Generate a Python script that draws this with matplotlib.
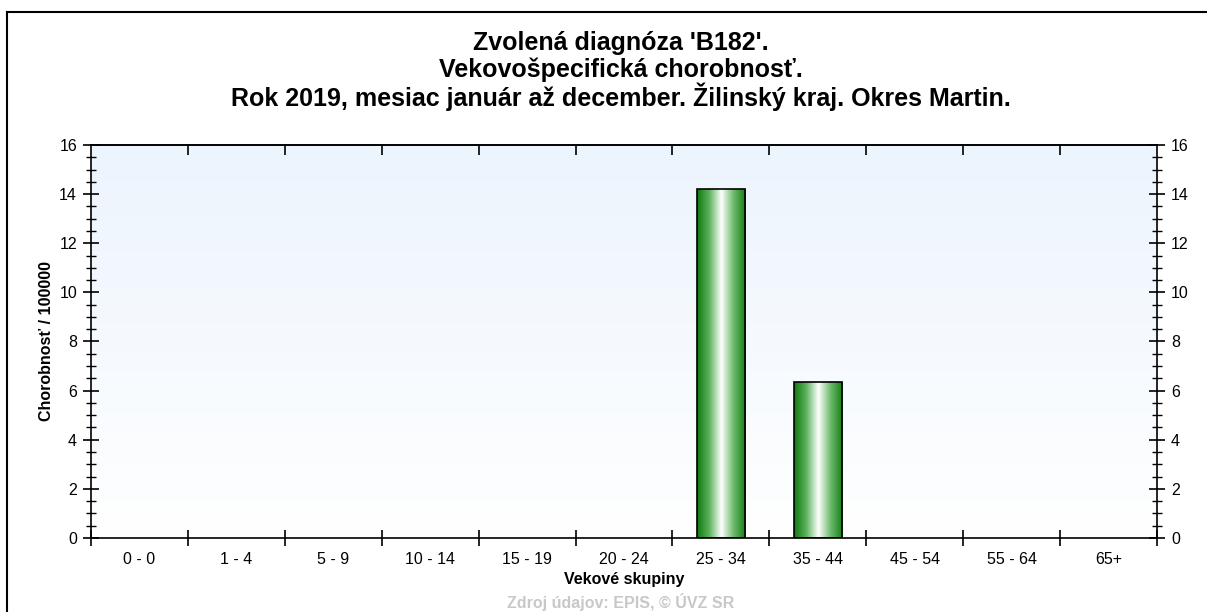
import matplotlib
matplotlib.use("Agg")
from matplotlib import pyplot as plt
from matplotlib.lines import Line2D
from matplotlib.colors import LinearSegmentedColormap
from matplotlib.ticker import MultipleLocator, FixedLocator
import numpy as np

# data
vekove_skupiny = ["0 - 0", "1 - 4", "5 - 9", "10 - 14", "15 - 19", "20 - 24",
                  "25 - 34", "35 - 44", "45 - 54", "55 - 64", "65+"]
chorobnost = [0, 0, 0, 0, 0, 0, 14.2, 6.35, 0, 0, 0]
nadpis = ["Zvolená diagnóza 'B182'.",
          "Vekovošpecifická chorobnosť.",
          "Rok 2019, mesiac január až december. Žilinský kraj. Okres Martin."]

plt.rcParams['font.family'] = ['Liberation Sans', 'DejaVu Sans']

fig = plt.figure(figsize=(12.07, 6.12), dpi=100)
ax = fig.add_axes([0.0754, 0.1209, 0.8832, 0.6422])

x = np.arange(len(vekove_skupiny))

# background gradient (light blue on top -> white)
bg = LinearSegmentedColormap.from_list("bg", ["#ffffff", "#ecf4fd"])
ax.imshow(np.linspace(0, 1, 256).reshape(-1, 1), cmap=bg, origin="lower",
          extent=[0, 1, 0, 1], transform=ax.transAxes, aspect="auto", zorder=0)

# bars with horizontal green gradient
bars = ax.bar(x, chorobnost, width=0.5, facecolor="none", edgecolor="black",
              linewidth=1.2, zorder=3)
green = LinearSegmentedColormap.from_list(
    "g", ["#0f7a0f", "#5cb25c", "#ffffff", "#6cba6c", "#137e13"])
grad = np.linspace(0, 1, 256).reshape(1, -1)
for b in bars:
    if b.get_height() <= 0:
        b.set_edgecolor("none")
        continue
    x0, w, h = b.get_x(), b.get_width(), b.get_height()
    im = ax.imshow(grad, cmap=green, extent=[x0, x0 + w, 0, h],
                   aspect="auto", zorder=2)
    im.set_clip_path(b)
ax.set_xlim(-0.5, len(vekove_skupiny) - 0.5)
ax.set_ylim(0, 16)

# x axis: labels at centres, ticks at boundaries
ax.set_xticks(x)
ax.set_xticklabels(vekove_skupiny)
ax.xaxis.set_minor_locator(FixedLocator(np.arange(-0.5, len(x), 1)))
ax.tick_params(axis="x", which="major", length=0, pad=10, labelsize=11.5)
ax.tick_params(axis="x", which="minor", direction="inout", length=12,
               width=1.2, top=False)
top = ax.secondary_xaxis("top")
top.set_xticks(np.arange(0.5, len(x) - 1, 1))
top.tick_params(direction="in", length=7, width=1.2, labeltop=False)
top.spines["top"].set_linewidth(1.2)

# y axis: both sides
ax.yaxis.set_major_locator(MultipleLocator(2))
ax.yaxis.set_minor_locator(MultipleLocator(0.5))
ax.tick_params(axis="y", which="major", direction="inout", length=12,
               width=1.2, left=True, right=True, labelright=True,
               labelsize=11.5, pad=4)
ax.tick_params(axis="y", which="minor", direction="inout", length=7,
               width=1.0, left=True, right=True)
for s in ax.spines.values():
    s.set_linewidth(1.2)

ax.set_xlabel("Vekové skupiny", fontsize=11.5, fontweight="bold", labelpad=4)
ax.set_ylabel("Chorobnosť / 100000", fontsize=11.5, fontweight="bold",
              labelpad=4)

for i, riadok in enumerate(nadpis):
    fig.text(0.514, 1 - (43 + 27 * i) / 612, riadok, ha="center",
             va="center", fontsize=18, fontweight="bold")
fig.text(0.514, 1 - 602 / 612, "Zdroj údajov: EPIS, © ÚVZ SR", ha="center",
         va="center", fontsize=11.5, fontweight="bold", color="#c8c8c8")

# outer frame
fig.add_artist(Line2D([7 / 1207, 7 / 1207], [0, 1 - 12 / 612],
                      transform=fig.transFigure, color="black", linewidth=1.5))
fig.add_artist(Line2D([7 / 1207, 1], [1 - 12 / 612, 1 - 12 / 612],
                      transform=fig.transFigure, color="black", linewidth=1.5))

fig.savefig("out.png", dpi=100)
